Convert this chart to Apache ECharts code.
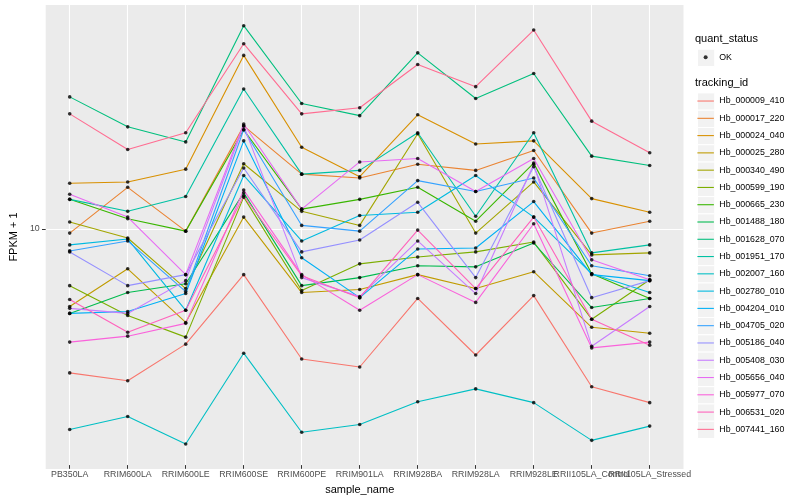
<!DOCTYPE html>
<html>
<head>
<meta charset="utf-8">
<script src="https://cdn.jsdelivr.net/npm/echarts@6/dist/echarts.min.js"></script>
<style>html,body{margin:0;padding:0;background:#fff}#c{width:800px;height:500px}</style>
</head>
<body>
<div id="c"></div>
<script>
const categories = ['PB350LA','RRIM600LA','RRIM600LE','RRIM600SE','RRIM600PE','RRIM901LA','RRIM928BA','RRIM928LA','RRIM928LE','RRII105LA_Control','RRII105LA_Stressed'];
const trackingIds = ['Hb_000009_410','Hb_000017_220','Hb_000024_040','Hb_000025_280','Hb_000340_490','Hb_000599_190','Hb_000665_230','Hb_001488_180','Hb_001628_070','Hb_001951_170','Hb_002007_160','Hb_002780_010','Hb_004204_010','Hb_004705_020','Hb_005186_040','Hb_005408_030','Hb_005656_040','Hb_005977_070','Hb_006531_020','Hb_007441_160'];
const palette = ['#F8766D','#EA8331','#D89000','#C09B00','#A3A500','#7CAE00','#39B600','#00BB4E','#00BF7D','#00C1A3','#00BFC4','#00BAE0','#00B0F6','#35A2FF','#9590FF','#C77CFF','#E76BF3','#FA62DB','#FF62BC','#FF6C91'];

const Hb_000009_410 = [4.29, 4.10, 5.07, 7.59, 4.65, 4.44, 6.61, 4.76, 6.72, 3.96, 3.61];
const Hb_000017_220 = [9.66, 12.6, 9.77, 18.0, 13.6, 13.3, 14.4, 13.9, 15.6, 9.66, 10.35];
const Hb_000024_040 = [12.9, 13.0, 14.0, 27.1, 15.9, 13.4, 19.2, 16.2, 16.5, 11.8, 10.9];
const Hb_000025_280 = [6.31, 7.85, 5.75, 10.6, 6.84, 6.96, 7.59, 7.00, 7.72, 5.59, 5.40];
const Hb_000340_490 = [10.3, 9.39, 7.00, 14.45, 10.96, 10.1, 17.2, 9.66, 13.0, 8.51, 8.61];
const Hb_000599_190 = [7.12, 5.99, 5.28, 11.9, 6.92, 8.08, 8.41, 8.66, 9.17, 5.86, 7.37];
const Hb_000665_230 = [11.75, 10.5, 9.77, 17.6, 11.1, 11.75, 12.6, 10.35, 14.5, 7.63, 6.61];
const Hb_001488_180 = [6.06, 6.84, 7.20, 12.2, 7.12, 7.46, 7.99, 7.94, 9.12, 6.27, 6.61];
const Hb_001628_070 = [21.3, 17.9, 16.4, 32.2, 20.5, 19.1, 27.5, 21.1, 24.4, 15.1, 14.3];
const Hb_001951_170 = [11.75, 10.96, 11.95, 22.3, 13.6, 13.9, 17.3, 10.65, 17.3, 8.61, 9.02];
const Hb_002007_160 = [3.09, 3.33, 2.84, 4.81, 3.04, 3.18, 3.63, 3.91, 3.61, 2.90, 3.15];
const Hb_002780_010 = [9.02, 9.33, 6.17, 13.5, 9.23, 10.7, 10.9, 13.5, 10.6, 7.63, 6.84];
const Hb_004204_010 = [6.06, 6.13, 6.80, 16.5, 8.37, 6.64, 8.81, 8.86, 11.6, 7.59, 7.33];
const Hb_004705_020 = [8.71, 9.23, 6.88, 17.6, 10.1, 9.77, 13.1, 12.3, 13.3, 7.99, 7.54];
const Hb_005186_040 = [8.66, 7.12, 7.59, 14.1, 8.66, 9.28, 11.55, 7.46, 14.2, 6.64, 7.33];
const Hb_005408_030 = [6.24, 6.06, 7.33, 18.0, 7.46, 6.68, 9.23, 6.80, 14.4, 5.01, 6.31];
const Hb_005656_040 = [12.1, 10.6, 7.59, 18.2, 11.1, 14.6, 14.9, 12.3, 14.9, 8.27, 7.37];
const Hb_005977_070 = [5.13, 5.31, 5.72, 12.4, 7.59, 6.17, 7.59, 6.46, 10.2, 4.96, 5.13];
const Hb_006531_020 = [6.57, 5.43, 6.17, 12.0, 7.54, 6.64, 9.83, 7.00, 10.6, 5.86, 5.04];
const Hb_007441_160 = [19.3, 15.7, 17.3, 29.0, 19.3, 20.0, 25.7, 22.6, 31.4, 18.5, 15.4];

const seriesValues = [Hb_000009_410, Hb_000017_220, Hb_000024_040, Hb_000025_280, Hb_000340_490, Hb_000599_190, Hb_000665_230, Hb_001488_180, Hb_001628_070, Hb_001951_170, Hb_002007_160, Hb_002780_010, Hb_004204_010, Hb_004705_020, Hb_005186_040, Hb_005408_030, Hb_005656_040, Hb_005977_070, Hb_006531_020, Hb_007441_160];
const yTickLabels = [10];
const yMin = 2.512, yMax = 36.31;

const FONT = '"Liberation Sans", Arial, Helvetica, sans-serif';
const chart = echarts.init(document.getElementById('c'), null, {renderer: 'canvas'});

const series = trackingIds.map((name, i) => ({
  name: name,
  type: 'line',
  xAxisIndex: 1, yAxisIndex: 1,
  data: seriesValues[i],
  showSymbol: false,
  symbol: 'none',
  color: palette[i],
  lineStyle: {width: 1.1, color: palette[i]},
  emphasis: {disabled: true},
  silent: true,
  z: 2
}));
const pts = [];
seriesValues.forEach(arr => arr.forEach((v, j) => pts.push([j, v])));
series.push({
  name: 'OK', type: 'scatter', xAxisIndex: 1, yAxisIndex: 1,
  data: pts, symbol: 'circle', symbolSize: 3.6,
  itemStyle: {color: '#000'}, color: '#000',
  emphasis: {disabled: true}, silent: true, z: 5
});

const KEY = 17.28;
const keyTop0 = 92.4;
const graphics = [];
graphics.push({type: 'rect', left: 697, top: 48.7, shape: {width: KEY, height: KEY}, style: {fill: '#F2F2F2', stroke: '#fff', lineWidth: 1}, z: 0, silent: true});
trackingIds.forEach((n, i) => {
  graphics.push({type: 'rect', left: 697, top: keyTop0 + i * KEY, shape: {width: KEY, height: KEY}, style: {fill: '#F2F2F2', stroke: '#fff', lineWidth: 1}, z: 0, silent: true});
});

const lineIcon = 'path://M0,0 M17.28,17.28 M0.4,8.1 L16.88,8.1 L16.88,9.18 L0.4,9.18 Z';
const dotIcon = 'path://M0,0 M17.28,17.28 M6.64,8.64 A2,2 0 1,0 10.64,8.64 A2,2 0 1,0 6.64,8.64 Z';

const option = {
  animation: false,
  backgroundColor: '#ffffff',
  textStyle: {fontFamily: FONT},
  title: [
    {text: 'quant_status', left: 695, top: 33, padding: 0, textStyle: {fontSize: 11, fontWeight: 'normal', color: '#000', fontFamily: FONT}},
    {text: 'tracking_id', left: 695, top: 77.5, padding: 0, textStyle: {fontSize: 11, fontWeight: 'normal', color: '#000', fontFamily: FONT}}
  ],
  graphic: graphics,
  legend: [
    {data: ['OK'], orient: 'vertical', left: 697, top: 48.7, padding: 0, itemGap: 0,
     itemWidth: KEY, itemHeight: KEY, icon: dotIcon, selectedMode: false,
     textStyle: {fontSize: 8.8, color: '#000', fontFamily: FONT}},
    {data: trackingIds, orient: 'vertical', left: 697, top: keyTop0, padding: 0, itemGap: 0,
     itemWidth: KEY, itemHeight: KEY, icon: lineIcon, selectedMode: false,
     textStyle: {fontSize: 8.8, color: '#000', fontFamily: FONT}}
  ],
  grid: [
    {left: 35, right: 116.5, top: 5, bottom: 31, show: true, backgroundColor: '#EBEBEB', borderWidth: 0, containLabel: false},
    {left: 69.7, right: 150.3, top: 5, bottom: 31, containLabel: false}
  ],
  xAxis: [
    {gridIndex: 0, type: 'value', min: 0, max: 1, show: false},
    {gridIndex: 1, type: 'category', data: categories, boundaryGap: false,
     axisLine: {show: false},
     axisTick: {show: true, interval: 0, length: 3.7, lineStyle: {color: '#333333', width: 1}},
     axisLabel: {interval: 0, hideOverlap: false, color: '#4D4D4D', fontSize: 8.8, margin: 5, fontFamily: FONT},
     splitLine: {show: true, interval: 0, lineStyle: {color: '#ffffff', width: 1.1}},
     name: 'sample_name', nameLocation: 'middle', nameGap: 15,
     nameTextStyle: {fontSize: 11, color: '#000', fontFamily: FONT}}
  ],
  yAxis: [
    {gridIndex: 0, type: 'log', logBase: 10, min: yMin, max: yMax,
     axisLine: {show: false},
     axisTick: {show: true, length: 3.7, lineStyle: {color: '#333333', width: 1}, customValues: yTickLabels},
     axisLabel: {color: '#4D4D4D', fontSize: 8.8, margin: 6, fontFamily: FONT, customValues: yTickLabels,
       formatter: v => String(Math.round(v))},
     splitLine: {show: true, lineStyle: {color: '#ffffff', width: 1.1}},
     name: 'FPKM + 1', nameLocation: 'middle', nameGap: 18,
     nameTextStyle: {fontSize: 11, color: '#000', fontFamily: FONT}},
    {gridIndex: 1, type: 'log', logBase: 10, min: yMin, max: yMax, show: false,
     splitLine: {show: false}}
  ],
  series: series
};
chart.setOption(option);
</script>
</body>
</html>
